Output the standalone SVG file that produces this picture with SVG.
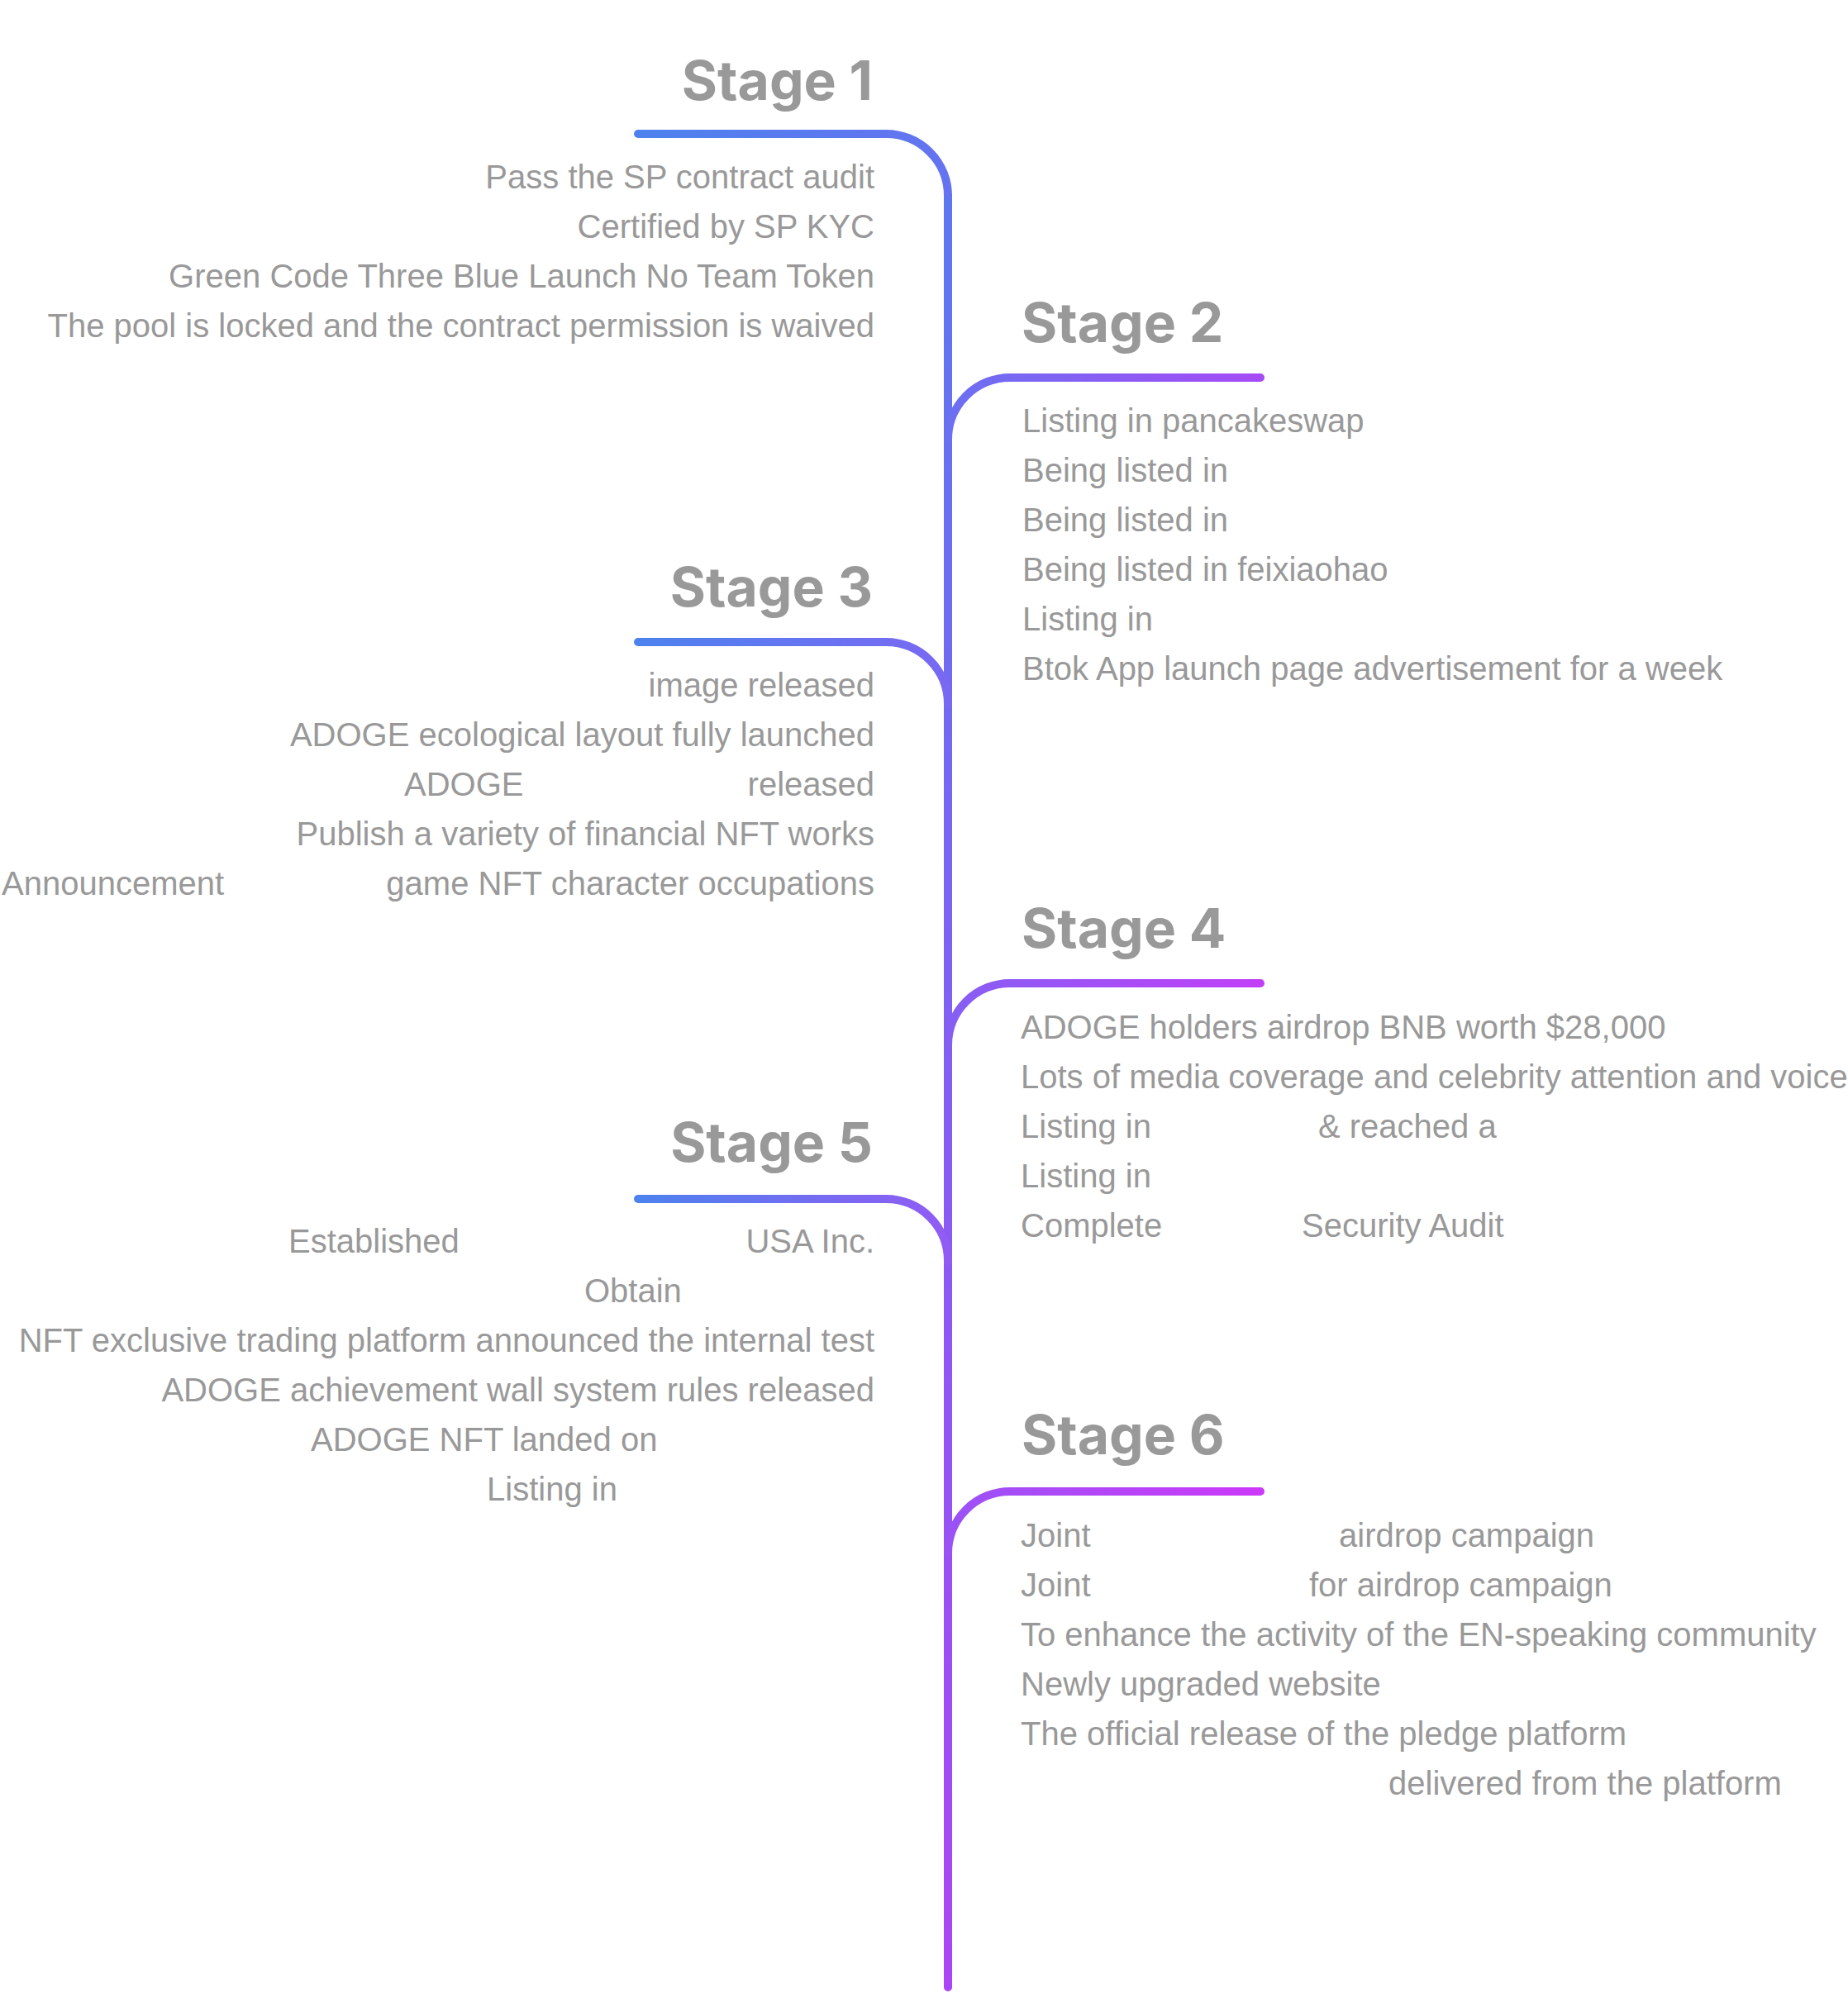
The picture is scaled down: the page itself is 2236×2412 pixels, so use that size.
<svg xmlns="http://www.w3.org/2000/svg" width="2236" height="2412" viewBox="0 0 2236 2412">
<defs>
<style>
.title{font-family:Inter,"Liberation Sans",sans-serif;font-weight:700;font-size:66px;fill:#999999}
.b{font-family:"Liberation Sans",Arial,sans-serif;font-size:40px;fill:#999999}
.l{text-anchor:end}
.ln{fill:none;stroke-width:10;stroke-linecap:round}
</style>
<linearGradient id="gv" gradientUnits="userSpaceOnUse" x1="0" y1="160" x2="0" y2="2410">
<stop offset="0" stop-color="#5a79ef"/><stop offset="1" stop-color="#ab44f6"/></linearGradient>
<linearGradient id="g1" gradientUnits="userSpaceOnUse" x1="770" y1="0" x2="1150" y2="0">
<stop offset="0" stop-color="#4d82ee"/><stop offset="1" stop-color="#6573f0"/></linearGradient>
<linearGradient id="g3" gradientUnits="userSpaceOnUse" x1="770" y1="0" x2="1150" y2="0">
<stop offset="0" stop-color="#4d82ee"/><stop offset="1" stop-color="#7a68f2"/></linearGradient>
<linearGradient id="g5" gradientUnits="userSpaceOnUse" x1="770" y1="0" x2="1150" y2="0">
<stop offset="0" stop-color="#4d82ee"/><stop offset="1" stop-color="#925bf4"/></linearGradient>
<linearGradient id="g2" gradientUnits="userSpaceOnUse" x1="1145" y1="0" x2="1530" y2="0">
<stop offset="0" stop-color="#6b70f1"/><stop offset="1" stop-color="#a64af6"/></linearGradient>
<linearGradient id="g4" gradientUnits="userSpaceOnUse" x1="1145" y1="0" x2="1530" y2="0">
<stop offset="0" stop-color="#855ff3"/><stop offset="1" stop-color="#c23ef8"/></linearGradient>
<linearGradient id="g6" gradientUnits="userSpaceOnUse" x1="1145" y1="0" x2="1530" y2="0">
<stop offset="0" stop-color="#9a52f5"/><stop offset="1" stop-color="#cc38fa"/></linearGradient>
</defs>
<rect width="2236" height="2412" fill="#ffffff"/>
<g id="connectors">
<path class="ln" stroke="url(#gv)" d="M1147 236 V2405"/>
<path class="ln" stroke="url(#g1)" d="M772 162 H1072 A75 75 0 0 1 1147 237"/>
<path class="ln" stroke="url(#g2)" d="M1525 457 H1222 A75 75 0 0 0 1147 532"/>
<path class="ln" stroke="url(#g3)" d="M772 777 H1072 A75 75 0 0 1 1147 852"/>
<path class="ln" stroke="url(#g4)" d="M1525 1190 H1222 A75 75 0 0 0 1147 1265"/>
<path class="ln" stroke="url(#g5)" d="M772 1451 H1072 A75 75 0 0 1 1147 1526"/>
<path class="ln" stroke="url(#g6)" d="M1525 1805 H1222 A75 75 0 0 0 1147 1880"/>
</g>
<g id="stage1">
<text class="title l" x="1056" y="121">Stage 1</text>
<text class="b l" x="1058" y="228">Pass the SP contract audit</text>
<text class="b l" x="1058" y="288">Certified by SP KYC</text>
<text class="b l" x="1058" y="348">Green Code Three Blue Launch No Team Token</text>
<text class="b l" x="1058" y="408">The pool is locked and the contract permission is waived</text>
</g>
<g id="stage2">
<text class="title" x="1236" y="414">Stage 2</text>
<text class="b" x="1237" y="523">Listing in pancakeswap</text>
<text class="b" x="1237" y="583">Being listed in</text>
<text class="b" x="1237" y="643">Being listed in</text>
<text class="b" x="1237" y="703">Being listed in feixiaohao</text>
<text class="b" x="1237" y="763">Listing in</text>
<text class="b" x="1237" y="823">Btok App launch page advertisement for a week</text>
</g>
<g id="stage3">
<text class="title l" x="1056" y="734">Stage 3</text>
<text class="b l" x="1058" y="843">image released</text>
<text class="b l" x="1058" y="903">ADOGE ecological layout fully launched</text>
<text class="b" x="489" y="963">ADOGE</text>
<text class="b l" x="1058" y="963">released</text>
<text class="b l" x="1058" y="1023">Publish a variety of financial NFT works</text>
<text class="b" x="2" y="1083">Announcement</text>
<text class="b l" x="1058" y="1083">game NFT character occupations</text>
</g>
<g id="stage4">
<text class="title" x="1236" y="1147">Stage 4</text>
<text class="b" x="1235" y="1257">ADOGE holders airdrop BNB worth $28,000</text>
<text class="b" x="1235" y="1317">Lots of media coverage and celebrity attention and voice</text>
<text class="b" x="1235" y="1377">Listing in</text>
<text class="b" x="1595" y="1377">&amp; reached a</text>
<text class="b" x="1235" y="1437">Listing in</text>
<text class="b" x="1235" y="1497">Complete</text>
<text class="b" x="1575" y="1497">Security Audit</text>
</g>
<g id="stage5">
<text class="title l" x="1056" y="1406">Stage 5</text>
<text class="b" x="349" y="1516">Established</text>
<text class="b l" x="1058" y="1516">USA Inc.</text>
<text class="b" x="707" y="1576">Obtain</text>
<text class="b l" x="1058" y="1636">NFT exclusive trading platform announced the internal test</text>
<text class="b l" x="1058" y="1696">ADOGE achievement wall system rules released</text>
<text class="b" x="376" y="1756">ADOGE NFT landed on</text>
<text class="b" x="589" y="1816">Listing in</text>
</g>
<g id="stage6">
<text class="title" x="1236" y="1760">Stage 6</text>
<text class="b" x="1235" y="1872">Joint</text>
<text class="b" x="1620" y="1872">airdrop campaign</text>
<text class="b" x="1235" y="1932">Joint</text>
<text class="b" x="1584" y="1932">for airdrop campaign</text>
<text class="b" x="1235" y="1992">To enhance the activity of the EN-speaking community</text>
<text class="b" x="1235" y="2052">Newly upgraded website</text>
<text class="b" x="1235" y="2112">The official release of the pledge platform</text>
<text class="b" x="1680" y="2172">delivered from the platform</text>
</g>
</svg>
